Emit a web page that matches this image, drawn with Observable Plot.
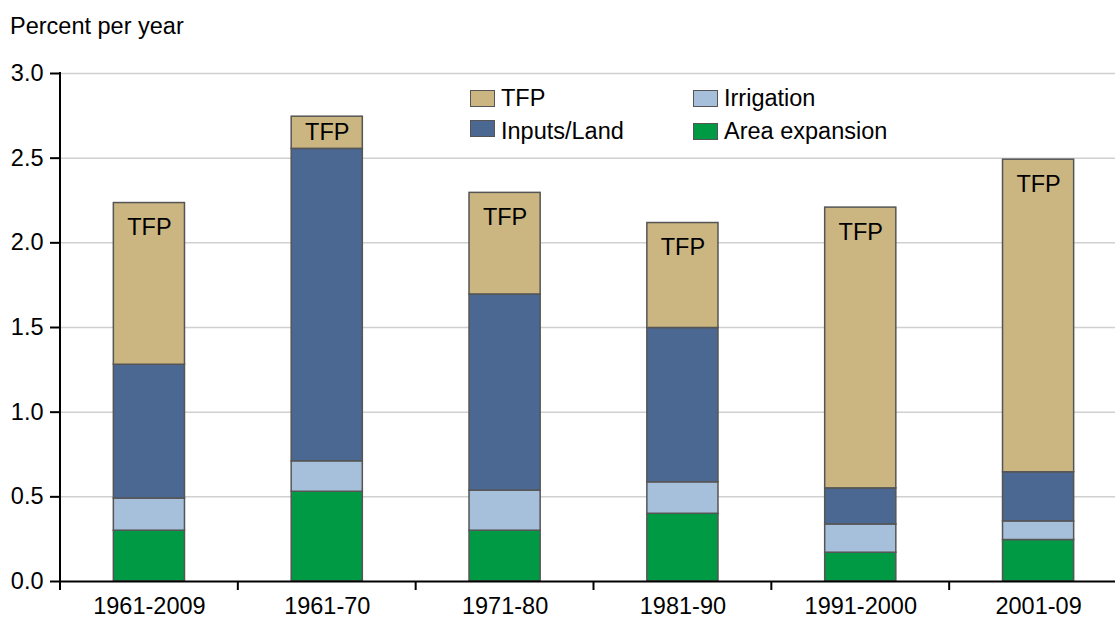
<!DOCTYPE html>
<html><head><meta charset="utf-8">
<script src="https://cdn.jsdelivr.net/npm/d3@7"></script>
<script src="https://cdn.jsdelivr.net/npm/@observablehq/plot@0.6"></script>
<style>
body{margin:0;background:#fff;font-family:"Liberation Sans",Arial,Helvetica,sans-serif;color:#000;}
#wrap{position:relative;width:1115px;height:617px;overflow:hidden;}
#title{position:absolute;left:10px;top:0;font-size:23.5px;line-height:1;padding-top:15px;}
#chart{position:absolute;left:0;top:45px;}
.sw{position:absolute;width:25px;height:17px;box-sizing:border-box;border:1.5px solid #555;}
.lt{position:absolute;font-size:23.5px;line-height:1;white-space:nowrap;}
</style></head>
<body><div id="wrap"><div id="title">Percent per year</div><div id="chart"></div><div id="legend"></div></div>
<script>
const periods = ["1961-2009", "1961-70", "1971-80", "1981-90", "1991-2000", "2001-09"];
const components = ["Area expansion", "Irrigation", "Inputs/Land", "TFP"];
const areaExpansion = [0.30, 0.53, 0.30, 0.40, 0.17, 0.245];
const irrigation    = [0.19, 0.18, 0.237, 0.186, 0.167, 0.11];
const inputsLand    = [0.79, 1.845, 1.158, 0.911, 0.213, 0.29];
const tfp           = [0.955, 0.19, 0.60, 0.62, 1.658, 1.846];
const colors = ["#009A44", "#A6BFDB", "#4A6891", "#CBB682"];
const yTicks = [0, 0.5, 1.0, 1.5, 2.0, 2.5, 3.0];
const legendOrder = ["TFP", "Irrigation", "Inputs/Land", "Area expansion"];

const series = [areaExpansion, irrigation, inputsLand, tfp];
const data = periods.flatMap((p, i) => components.map((c, j) => ({period: p, component: c, value: series[j][i]})));
const labels = periods.map((p, i) => {
  const base = areaExpansion[i] + irrigation[i] + inputsLand[i];
  const total = base + tfp[i];
  return {period: p, y: Math.max(total - 0.146, (total + base) / 2)};
});

const PADI = 0.6;
const boundaries = (index, scales) => {
  const {x, y} = scales;
  const step = x(periods[1]) - x(periods[0]);
  const bw = typeof x.bandwidth === "function" ? x.bandwidth() : step * (1 - PADI);
  const start = x(periods[0]) - (step - bw) / 2;
  const g = d3.create("svg:g").attr("stroke", "#000").attr("stroke-width", 2);
  for (let i = 0; i <= periods.length; i++) {
    const bx = start + i * step;
    g.append("line").attr("x1", bx).attr("x2", bx)
      .attr("y1", i === 0 ? y(3) - 1 : y(0)).attr("y2", y(0) + 9);
  }
  return g.node();
};

const FONT = '"Liberation Sans", Arial, Helvetica, sans-serif';
const chart = Plot.plot({
  width: 1115, height: 572,
  marginTop: 28, marginBottom: 36, marginLeft: 60, marginRight: 0,
  style: {fontFamily: FONT, fontSize: "23.5px", color: "#000", background: "transparent", overflow: "visible"},
  x: {type: "band", domain: periods, range: [60, 1127], round: false, paddingInner: PADI, paddingOuter: 0.3, label: null},
  y: {domain: [0, 3], label: null},
  color: {domain: components, range: colors},
  marks: [
    Plot.ruleY(yTicks.filter(d => d > 0), {stroke: "#d0d0d0", strokeWidth: 1.5}),
    Plot.barY(data, {x: "period", y: "value", fill: "component", stroke: "#555", strokeWidth: 1.5}),
    Plot.text(labels, {x: "period", y: "y", text: () => "TFP", fontSize: 23.5, lineAnchor: "middle", fill: "#000"}),
    Plot.ruleY([0], {stroke: "#000", strokeWidth: 2}),
    Plot.axisY({ticks: yTicks, tickFormat: d => d.toFixed(1), tickSize: 10, tickPadding: 7, fontSize: 23.5, strokeWidth: 2, label: null}),
    Plot.axisX({tickSize: 0, tickPadding: 16, fontSize: 23.5, label: null}),
    boundaries
  ]
});
document.getElementById("chart").appendChild(chart);

// legend (layout positions only)
const legendLayout = {
  "TFP":            {sx: 470, sy: 90,    tx: 501, ty: 87},
  "Irrigation":     {sx: 693, sy: 89.5,  tx: 724, ty: 87},
  "Inputs/Land":    {sx: 470, sy: 119.5, tx: 501, ty: 119.5},
  "Area expansion": {sx: 693, sy: 123,   tx: 724, ty: 119.5}
};
const legend = document.getElementById("legend");
legendOrder.forEach(name => {
  const L = legendLayout[name];
  const sw = document.createElement("div");
  sw.className = "sw";
  sw.style.left = L.sx + "px"; sw.style.top = L.sy + "px";
  sw.style.background = colors[components.indexOf(name)];
  const t = document.createElement("div");
  t.className = "lt";
  t.style.left = L.tx + "px"; t.style.top = L.ty + "px";
  t.textContent = name;
  legend.appendChild(sw); legend.appendChild(t);
});
</script>
</body></html>
